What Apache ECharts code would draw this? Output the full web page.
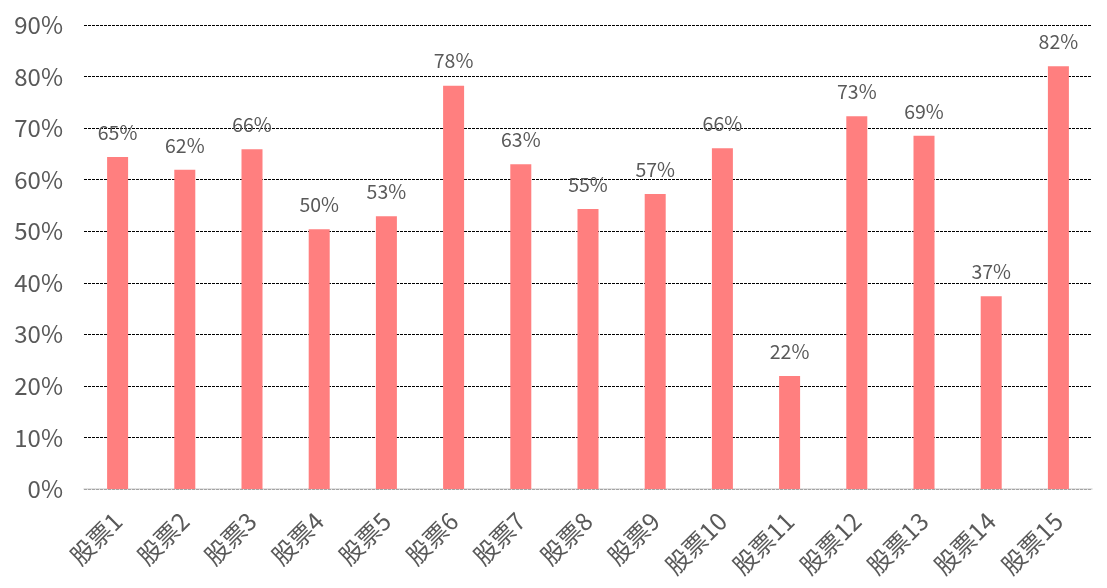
<!DOCTYPE html>
<html><head><meta charset="utf-8">
<script src="https://cdn.jsdelivr.net/npm/echarts@6/dist/echarts.min.js"></script>
<style>html,body{margin:0;padding:0;background:#fff}#c{width:1107px;height:588px}</style>
</head><body><div id="c"></div>
<script>
var categories = ['股票1','股票2','股票3','股票4','股票5','股票6','股票7','股票8','股票9','股票10','股票11','股票12','股票13','股票14','股票15'];
var values = [64.4, 61.9, 65.9, 50.4, 52.9, 78.2, 63.0, 54.3, 57.2, 66.1, 21.9, 72.3, 68.5, 37.4, 82.0];
var labels = ['65%','62%','66%','50%','53%','78%','63%','55%','57%','66%','22%','73%','69%','37%','82%'];
var yTicks = [0,10,20,30,40,50,60,70,80,90];
var chart = echarts.init(document.getElementById('c'), null, {renderer:'canvas'});
var font = '"Noto Sans CJK SC", "Liberation Sans", sans-serif';
chart.setOption({
  animation: false,
  grid: {left: 84, right: 15, top: 25, bottom: 99},
  xAxis: {
    type: 'category', data: categories,
    axisLine: {lineStyle: {color: '#d9d9d9', width: 1.5}},
    axisTick: {show: false},
    axisLabel: {rotate: 45, color: '#595959', fontSize: 24, fontFamily: font, margin: 28, interval: 0}
  },
  yAxis: {
    type: 'value', min: yTicks[0], max: yTicks[yTicks.length-1], interval: 10,
    axisLine: {show: false}, axisTick: {show: false},
    axisLabel: {color: '#595959', fontSize: 24, fontFamily: font, margin: 21, formatter: function(v){return v + '%';}},
    splitLine: {lineStyle: {color: '#000', type: [3,1], width: 1}}
  },
  series: [{
    type: 'bar', data: values, barWidth: 21,
    itemStyle: {color: '#FF7F7F'},
    label: {show: true, position: 'top', distance: 15, color: '#595959', fontSize: 19.5, fontFamily: font,
      formatter: function(p){return labels[p.dataIndex];}}
  }]
});
</script></body></html>
